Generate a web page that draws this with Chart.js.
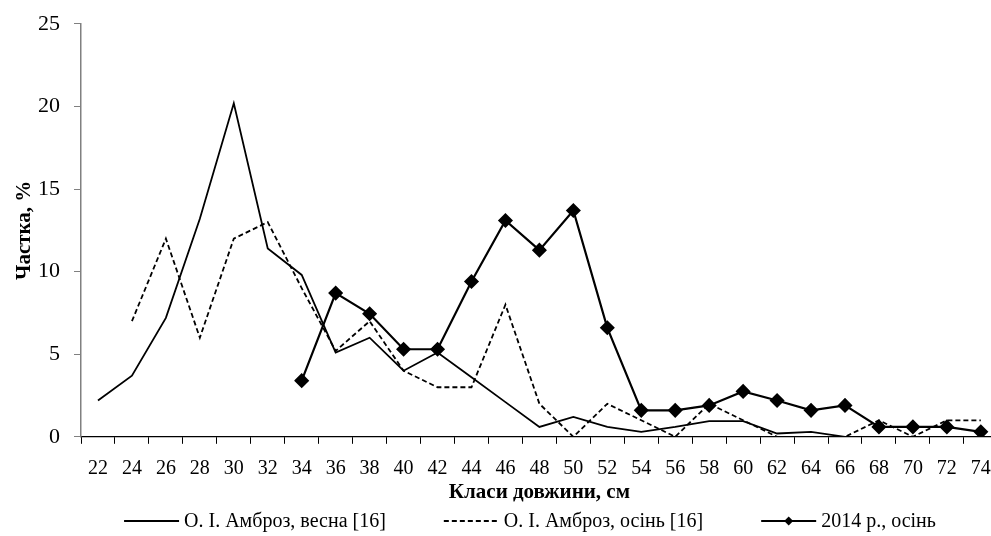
<!DOCTYPE html>
<html>
<head>
<meta charset="utf-8">
<script src="https://cdn.jsdelivr.net/npm/chart.js@4/dist/chart.umd.min.js"></script>
<style>
html,body{margin:0;padding:0;background:#fff;overflow:hidden;}
#wrap{width:1006px;height:536px;}
</style>
</head>
<body>
<div id="wrap"><canvas id="c" width="1006" height="536"></canvas></div>
<script>
const categories = ['22','24','26','28','30','32','34','36','38','40','42','44','46','48','50','52','54','56','58','60','62','64','66','68','70','72','74'];
const springValues = [2.2,3.7,7.2,13.2,20.2,11.4,9.8,5.1,6.0,4.0,5.1,3.6,2.1,0.6,1.2,0.6,0.3,0.6,0.95,0.95,0.2,0.3,0,0,0,0,0];
const autumnValues = [null,7,12,6,12,13,9,5.2,7,4,3,3,8,2,0,2,1,0,2,1,0,0,0,1,0,1,1];
const autumn2014Values = [null,null,null,null,null,null,3.4,8.7,7.45,5.3,5.3,9.4,13.1,11.3,13.7,6.6,1.6,1.6,1.9,2.75,2.2,1.6,1.9,0.6,0.6,0.6,0.3];
const yTicks = [0,5,10,15,20,25];
const seriesNames = ['О. І. Амброз, весна [16]','О. І. Амброз, осінь [16]','2014 р., осінь'];

const FONT = "'Liberation Serif', 'Times New Roman', serif";

// Legend drawn below the axis title, using the datasets' own styles
const bottomLegend = {
  id: 'bottomLegend',
  afterDraw(chart) {
    const ctx = chart.ctx;
    const ds = chart.data.datasets;
    const lineLen = 55, gapText = 5, gapItem = 58, centerX = 530, cy = 521;
    ctx.save();
    ctx.font = '20px ' + FONT;
    const widths = ds.map(d => ctx.measureText(d.label).width);
    let total = 0;
    widths.forEach(w => total += lineLen + gapText + w);
    total += gapItem * (ds.length - 1);
    let x = centerX - total / 2;
    ds.forEach((d, i) => {
      ctx.strokeStyle = d.borderColor;
      ctx.lineWidth = d.borderWidth;
      ctx.setLineDash(d.borderDash || []);
      ctx.beginPath();
      ctx.moveTo(x, cy);
      ctx.lineTo(x + lineLen, cy);
      ctx.stroke();
      ctx.setLineDash([]);
      if (d.pointRadius > 0) {
        const r = 4.5, mx = x + lineLen / 2;
        ctx.fillStyle = d.pointBackgroundColor;
        ctx.beginPath();
        ctx.moveTo(mx - r, cy);
        ctx.lineTo(mx, cy - r);
        ctx.lineTo(mx + r, cy);
        ctx.lineTo(mx, cy + r);
        ctx.closePath();
        ctx.fill();
      }
      ctx.fillStyle = '#000';
      ctx.textBaseline = 'middle';
      ctx.textAlign = 'left';
      ctx.fillText(d.label, x + lineLen + gapText, cy + 1);
      x += lineLen + gapText + widths[i] + gapItem;
    });
    ctx.restore();
  }
};

new Chart(document.getElementById('c'), {
  type: 'line',
  data: {
    labels: categories,
    datasets: [
      {label: seriesNames[0], data: springValues, borderColor: '#000', backgroundColor: '#000', borderWidth: 1.8, pointRadius: 0, tension: 0},
      {label: seriesNames[1], data: autumnValues, borderColor: '#000', backgroundColor: '#000', borderWidth: 1.8, borderDash: [5,3], pointRadius: 0, tension: 0},
      {label: seriesNames[2], data: autumn2014Values, borderColor: '#000', backgroundColor: '#000', borderWidth: 2.2, pointStyle: 'rectRot', pointRadius: 6, pointBackgroundColor: '#000', pointBorderColor: '#000', tension: 0}
    ]
  },
  options: {
    responsive: false,
    animation: false,
    events: [],
    layout: {padding: {left: 0, right: 3, top: 21, bottom: 29}},
    plugins: {
      tooltip: {enabled: false},
      legend: {display: false}
    },
    scales: {
      x: {
        type: 'category',
        offset: true,
        grid: {display: true, drawOnChartArea: false, drawTicks: true, tickLength: 7, color: '#000', offset: true},
        border: {display: true, color: '#000', width: 1.2},
        ticks: {color: '#000', font: {family: FONT, size: 20}, padding: 13, maxRotation: 0, autoSkip: false},
        title: {display: true, text: 'Класи довжини, см', color: '#000', font: {family: FONT, size: 21, weight: 'bold'}, padding: {top: -14, bottom: 2}}
      },
      y: {
        min: 0, max: 25,
        afterBuildTicks(scale) { scale.ticks = yTicks.map(v => ({value: v})); },
        afterFit(scale) { scale.width = 81; },
        grid: {display: true, drawOnChartArea: false, drawTicks: true, tickLength: 7, color: '#808080'},
        border: {display: true, color: '#808080', width: 1.5},
        ticks: {color: '#000', font: {family: FONT, size: 22, lineHeight: 0.9}, padding: 14},
        title: {display: true, text: 'Частка, %', color: '#000', font: {family: FONT, size: 21, weight: 'bold'}, padding: {top: 12, bottom: 0}}
      }
    }
  },
  plugins: [bottomLegend]
});
</script>
</body>
</html>
